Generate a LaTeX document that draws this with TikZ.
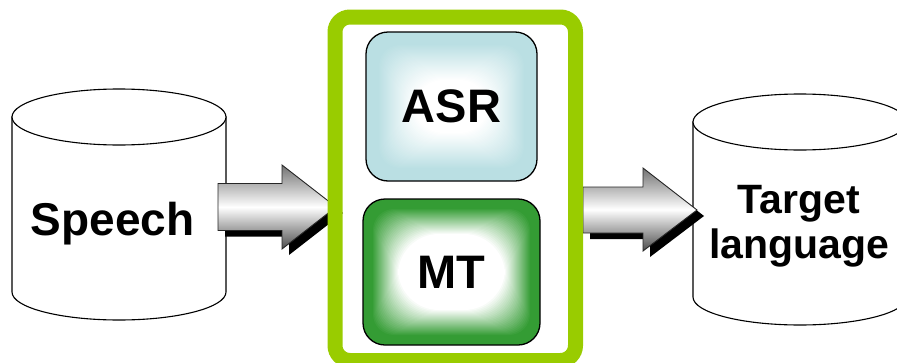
\documentclass[tikz,border=0pt]{standalone}
\usepackage{fontspec}
\setmainfont{Liberation Sans}

\definecolor{framegreen}{RGB}{153,204,0}
\definecolor{asrblue}{RGB}{186,223,227}
\definecolor{mtgreen}{RGB}{52,156,52}

% metallic band for the block arrows: dark edges, white middle
\pgfdeclareverticalshading{arrowshade}{100bp}{color(0bp)=(black!70); color(25bp)=(black!70); color(50bp)=(white); color(75bp)=(black!55); color(100bp)=(black!55)}

\tikzset{
  cyl/.style={draw=black, line width=1.1pt, fill=white},
  biglabel/.style={font=\bfseries\fontsize{46}{50}\selectfont, inner sep=0pt},
  tgtlabel/.style={font=\bfseries\fontsize{41}{45}\selectfont, inner sep=0pt, align=center},
  arrowbody/.style={draw=black!85, line width=0.9pt, shading=arrowshade},
  arrowshadow/.style={fill=black},
  component/.style={draw=black, line width=1.3pt, rounded corners=22pt, inner sep=0pt,
    font=\bfseries\fontsize{47}{50}\selectfont},
  % rectangular glow: nested rounded rectangles fading from the edge colour to white
  % #1 colour, #2 first inset, #3 number of steps, #4 corner growth per step
  glow/.style n args={4}{fill=#1, path picture={
    \foreach \i in {0,...,#3}{
      \pgfmathsetmacro\mixval{100-\i*100/#3}
      \pgfmathsetmacro\rcval{20+#4*\i}
      \fill[#1!\mixval!white, rounded corners=\rcval pt]
        ([shift={(#2+\i,#2+\i)}]path picture bounding box.north west) rectangle
        ([shift={(-#2-\i,-#2-\i)}]path picture bounding box.south east);
    }}},
}

\begin{document}
\begin{tikzpicture}[x=1pt, y=-1pt]
\useasboundingbox (0,0) rectangle (897,362);
\begin{scope}
\clip (0,0) rectangle (897,362);

% source corpus: speech
\path[cyl] (12,117) -- (12,292) arc[start angle=180, end angle=360, x radius=107pt, y radius=28pt] -- (226,117) -- cycle;
\draw[cyl] (119,117) ellipse[x radius=107pt, y radius=28pt];
\node[biglabel, anchor=base] (speech) at (112.5,235) {Speech};

% output corpus: target language
\path[cyl] (693,122) -- (693,297) arc[start angle=180, end angle=360, x radius=107pt, y radius=28pt] -- (907,122) -- cycle;
\draw[cyl] (800,122) ellipse[x radius=107pt, y radius=28pt];

% block arrow from the speech store into the pipeline
\coordinate (inArrow) at (218,207);
\fill[arrowshadow] ([shift={(7,6)}]inArrow) ++(0,-23.5) -- ++(64,0) -- ++(0,-18.5) -- ++(54,42) -- ++(-54,42) -- ++(0,-18.5) -- ++(-64,0) -- cycle;
\path[arrowbody] (inArrow) ++(0,-23.5) -- ++(64,0) -- ++(0,-18.5) -- ++(54,42) -- ++(-54,42) -- ++(0,-18.5) -- ++(-64,0) -- cycle;

% block arrow from the pipeline to the target store
\coordinate (outArrow) at (583,210);
\fill[arrowshadow] ([shift={(7,6)}]outArrow) ++(0,-23) -- ++(60,0) -- ++(0,-19) -- ++(54,42) -- ++(-54,41) -- ++(0,-18) -- ++(-60,0) -- cycle;
\path[arrowbody] (outArrow) ++(0,-23) -- ++(60,0) -- ++(0,-19) -- ++(54,42) -- ++(-54,41) -- ++(0,-18) -- ++(-60,0) -- cycle;

\node[tgtlabel, anchor=base] (target) at (799,258) {Target\\language};

% pipeline frame
\draw[framegreen, line width=15pt, rounded corners=15pt] (335,17) rectangle (575.5,360.5);

% pipeline components
\node[component, glow={asrblue}{12}{36}{0.25}, minimum width=171pt, minimum height=149pt] (asr) at (451.5,106.5) {ASR};
\node[component, glow={mtgreen}{9}{26}{0.8}, minimum width=177pt, minimum height=146pt] (mt) at (451.5,272) {MT};
\end{scope}
\end{tikzpicture}
\end{document}
